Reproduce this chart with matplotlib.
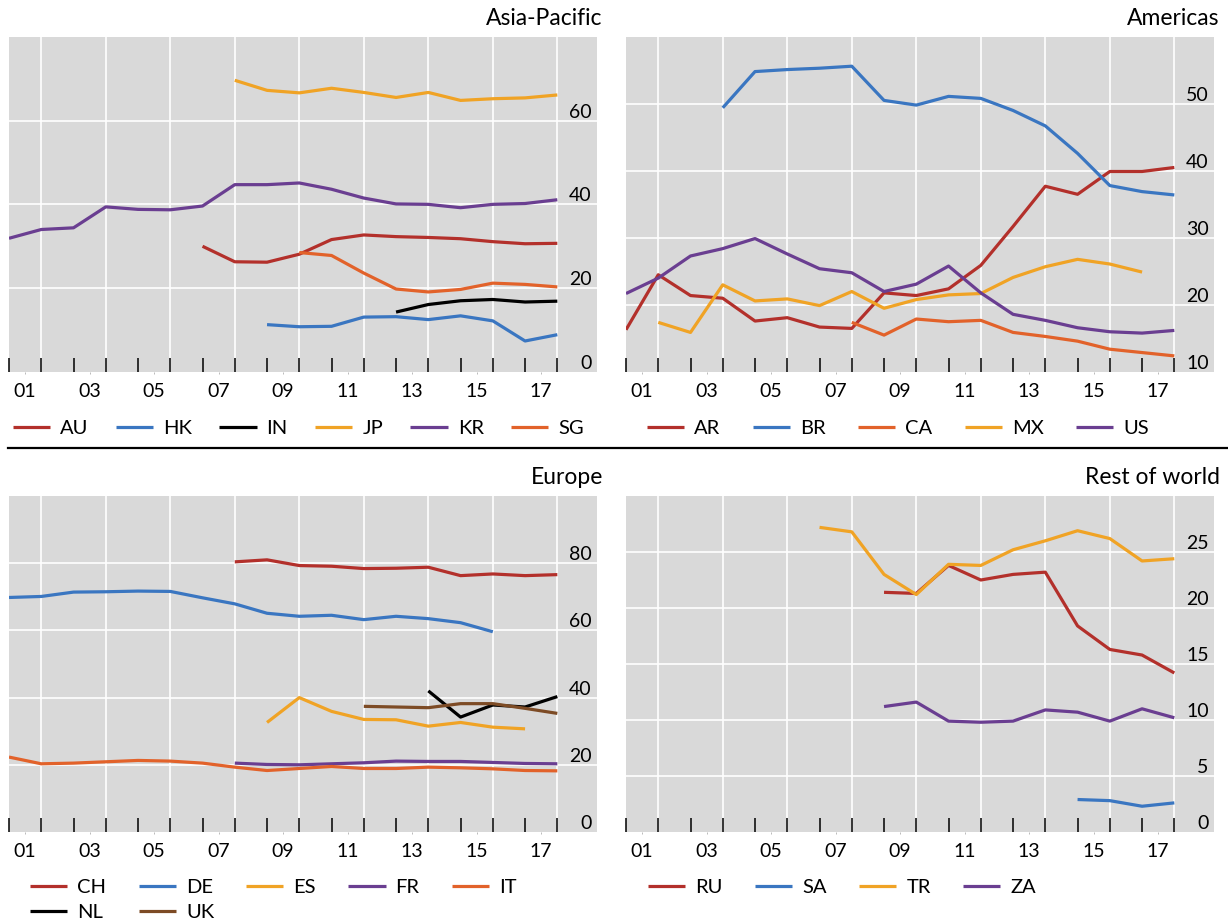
import matplotlib
matplotlib.use("Agg")
import matplotlib.pyplot as plt
from matplotlib.lines import Line2D
import numpy as np

plt.rcParams["font.family"] = ["Lato", "DejaVu Sans"]

W, H = 1228, 924
BG = "#d9d9d9"
RED, BLUE, BLACK = "#b3302b", "#3a76c1", "#000000"
GOLD, PURPLE, ORANGE, BROWN = "#f0a325", "#6a3e91", "#e2622a", "#7d4b25"

n = None
YEARS = np.arange(2000, 2018)          # annual values, drawn at year end
XLABELS = ["01", "03", "05", "07", "09", "11", "13", "15", "17"]

# Asia-Pacific
AU = [n] * 6 + [30.0, 26.3, 26.2, 28.1, 31.6, 32.7, 32.3, 32.1, 31.8, 31.1, 30.6, 30.7]
HK = [n] * 8 + [11.3, 10.8, 10.9, 13.1, 13.2, 12.5, 13.4, 12.2, 7.4, 8.9]
IN = [n] * 12 + [14.3, 16.1, 17.0, 17.3, 16.7, 16.9]
JP = [n] * 7 + [69.6, 67.2, 66.6, 67.7, 66.7, 65.5, 66.7, 64.8, 65.2, 65.4, 66.1]
KR = [31.9, 34.0, 34.4, 39.4, 38.8, 38.7, 39.6, 44.7, 44.7, 45.1, 43.6, 41.5,
      40.1, 40.0, 39.2, 40.0, 40.2, 41.1]
SG = [n] * 9 + [28.5, 27.8, 23.6, 19.8, 19.1, 19.7, 21.2, 20.9, 20.3]

# Americas
AR = [16.3, 24.5, 21.4, 21.0, 17.6, 18.1, 16.7, 16.5, 21.8, 21.4, 22.4, 25.9,
      31.7, 37.7, 36.5, 39.9, 39.9, 40.5]
BR = [n] * 3 + [49.4, 54.8, 55.1, 55.3, 55.6, 50.5, 49.8, 51.1, 50.8, 49.0, 46.7,
                42.6, 37.8, 36.9, 36.4]
CA = [n] * 7 + [17.4, 15.5, 17.9, 17.5, 17.7, 15.9, 15.3, 14.6, 13.4, 12.9, 12.4]
MX = [n] + [17.4, 15.9, 23.0, 20.6, 20.9, 19.9, 22.0, 19.5, 20.8, 21.5, 21.7, 24.1,
            25.7, 26.8, 26.1, 24.9] + [n]
US = [21.7, 24.0, 27.3, 28.4, 29.9, 27.6, 25.4, 24.8, 22.0, 23.1, 25.8, 21.8,
      18.6, 17.7, 16.6, 16.0, 15.8, 16.2]

# Europe
CH = [n] * 7 + [80.4, 81.0, 79.3, 79.1, 78.4, 78.5, 78.8, 76.3, 76.8, 76.3, 76.6]
DE = [69.8, 70.1, 71.4, 71.5, 71.7, 71.6, 69.7, 67.9, 65.1, 64.2, 64.5, 63.2,
      64.2, 63.5, 62.3, 59.6] + [n] * 2
ES = [n] * 8 + [32.6, 40.0, 35.9, 33.5, 33.4, 31.5, 32.6, 31.2, 30.7] + [n]
FR = [n] * 7 + [20.5, 20.1, 20.0, 20.3, 20.6, 21.1, 21.0, 21.0, 20.7, 20.4, 20.3]
IT = [22.3, 20.3, 20.5, 20.9, 21.3, 21.1, 20.5, 19.3, 18.3, 18.9, 19.5, 18.9,
      18.9, 19.3, 19.1, 18.8, 18.3, 18.2]
NL = [n] * 13 + [42.0, 34.2, 37.8, 37.2, 40.3]
UK = [n] * 11 + [37.4, 37.2, 37.0, 38.2, 38.2, 36.8, 35.3]

# Rest of world
RU = [n] * 8 + [21.4, 21.3, 23.8, 22.5, 23.0, 23.2, 18.4, 16.3, 15.8, 14.2]
SA = [n] * 14 + [2.9, 2.8, 2.3, 2.6]
TR = [n] * 6 + [27.2, 26.8, 23.0, 21.2, 23.9, 23.8, 25.2, 26.0, 26.9, 26.2, 24.2, 24.4]
ZA = [n] * 8 + [11.2, 11.6, 9.9, 9.8, 9.9, 10.9, 10.7, 9.9, 11.0, 10.2]


def arr(vals):
    return np.array([np.nan if v is None else v for v in vals], dtype=float)


def draw_panel(rect, title, series, ylim, yticks):
    l, t, r, b = rect
    ax = fig.add_axes([l / W, 1 - b / H, (r - l) / W, (b - t) / H])
    ax.set_facecolor(BG)
    for s in ax.spines.values():
        s.set_visible(False)

    x = YEARS + 1
    for name, vals, col in series:
        ax.plot(x, arr(vals), color=col, lw=2.3, solid_capstyle="butt",
                solid_joinstyle="round", label=name, zorder=3)

    ax.set_xlim(2001, 2019.23)
    ax.set_ylim(*ylim)

    # white grid
    for yv in yticks[1:]:
        ax.axhline(yv, color="white", lw=1.2, zorder=1)
    for xv in range(2002, 2019, 2):
        ax.axvline(xv, color="white", lw=1.2, zorder=1)

    # x: year-boundary ticks, labels in the middle of odd years
    ax.set_xticks(np.arange(2001, 2019))
    ax.set_xticks(np.arange(2001.5, 2018, 2), minor=True)
    ax.set_xticklabels(XLABELS, minor=True)
    ax.tick_params(axis="x", which="major", direction="in", length=10, width=1.1,
                   color="black", labelbottom=False)
    ax.tick_params(axis="x", which="minor", direction="out", length=1.5,
                   color="#b0b0b0", pad=6.5, labelsize=14)

    # y: labels inside, right aligned, sitting on the gridline
    ax.yaxis.tick_right()
    ax.set_yticks(yticks, [str(v) for v in yticks], ha="right", va="bottom")
    ax.tick_params(axis="y", length=0, pad=-3.8, labelsize=14)

    ax.text(1.01, 1.035, title, transform=ax.transAxes, ha="right",
            va="baseline", fontsize=16.5)
    return ax


def add_legend(ax, order, x, y, ncol, colsp=1.6):
    handles, labels = ax.get_legend_handles_labels()
    idx = [labels.index(o) for o in order]
    fig.legend([handles[i] for i in idx], [labels[i] for i in idx],
               loc="center left", bbox_to_anchor=(x / W, 1 - y / H),
               ncol=ncol, frameon=False, fontsize=14.5, borderpad=0,
               borderaxespad=0, handlelength=1.85, handletextpad=0.5,
               columnspacing=colsp, labelspacing=0.38)


fig = plt.figure(figsize=(W / 100, H / 100), dpi=100)

ax1 = draw_panel((9, 36.7, 597, 372), "Asia-Pacific",
                 [("AU", AU, RED), ("HK", HK, BLUE), ("IN", IN, BLACK),
                  ("JP", JP, GOLD), ("KR", KR, PURPLE), ("SG", SG, ORANGE)],
                 (0, 80), [0, 20, 40, 60])
ax2 = draw_panel((626, 36.7, 1214, 372), "Americas",
                 [("AR", AR, RED), ("BR", BR, BLUE), ("CA", CA, ORANGE),
                  ("MX", MX, GOLD), ("US", US, PURPLE)],
                 (10, 60), [10, 20, 30, 40, 50])
ax3 = draw_panel((9, 496, 597, 832), "Europe",
                 [("CH", CH, RED), ("DE", DE, BLUE), ("ES", ES, GOLD),
                  ("FR", FR, PURPLE), ("IT", IT, ORANGE), ("NL", NL, BLACK),
                  ("UK", UK, BROWN)],
                 (0, 100), [0, 20, 40, 60, 80])
ax4 = draw_panel((626, 496, 1214, 832), "Rest of world",
                 [("RU", RU, RED), ("SA", SA, BLUE), ("TR", TR, GOLD),
                  ("ZA", ZA, PURPLE)],
                 (0, 30), [0, 5, 10, 15, 20, 25])

add_legend(ax1, ["AU", "HK", "IN", "JP", "KR", "SG"], 13, 428, 6, colsp=1.35)
add_legend(ax2, ["AR", "BR", "CA", "MX", "US"], 647, 428, 5)
# column-major fill: gives CH DE ES FR IT / NL UK
add_legend(ax3, ["CH", "NL", "DE", "UK", "ES", "FR", "IT"], 30, 900, 5)
add_legend(ax4, ["RU", "SA", "TR", "ZA"], 648, 887, 4)

fig.add_artist(Line2D([8 / W, 1.0], [1 - 447.7 / H] * 2, color="black", lw=1.6,
                      transform=fig.transFigure))

fig.savefig("out.png", dpi=100)
